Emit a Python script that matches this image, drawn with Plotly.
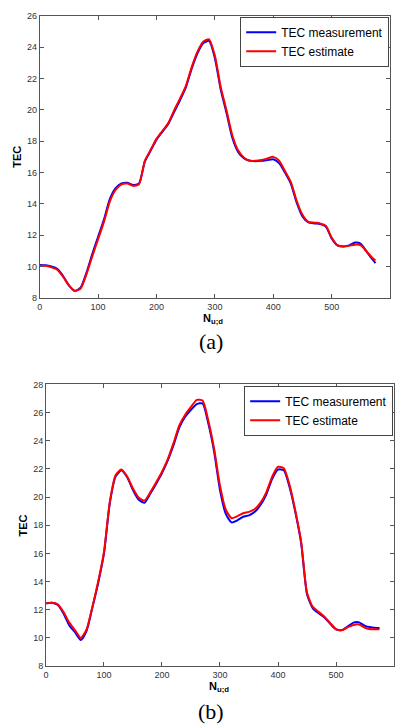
import plotly.graph_objects as go

# ---------------- data ----------------
x_a = [0, 10, 20, 30, 40, 50, 60, 70, 80, 90, 100, 110, 120, 130, 140, 150, 160, 170, 180, 190,
       200, 210, 220, 230, 240, 250, 260, 270, 280, 290, 300, 310, 320, 330, 340, 350, 360, 370,
       380, 390, 400, 410, 420, 430, 440, 450, 460, 470, 480, 490, 500, 510, 520, 530, 540, 550,
       560, 570, 575]
meas_a = [10.10, 10.08, 10.00, 9.85, 9.40, 8.80, 8.45, 8.65, 9.60, 10.80, 11.90, 13.00, 14.30,
          15.00, 15.30, 15.35, 15.20, 15.30, 16.70, 17.40, 18.10, 18.60, 19.10, 19.85, 20.60,
          21.40, 22.60, 23.60, 24.25, 24.40, 23.30, 21.30, 19.80, 18.20, 17.30, 16.90, 16.75,
          16.72, 16.75, 16.80, 16.85, 16.60, 16.00, 15.30, 14.10, 13.20, 12.82, 12.75, 12.72,
          12.55, 11.80, 11.35, 11.28, 11.35, 11.53, 11.45, 10.95, 10.45, 10.22]
est_a = [10.05, 10.05, 9.95, 9.80, 9.35, 8.80, 8.45, 8.60, 9.50, 10.65, 11.75, 12.85, 14.15,
         14.90, 15.25, 15.30, 15.15, 15.25, 16.75, 17.45, 18.15, 18.65, 19.15, 19.95, 20.70,
         21.50, 22.70, 23.70, 24.35, 24.50, 23.45, 21.45, 19.95, 18.35, 17.40, 16.95, 16.75,
         16.75, 16.80, 16.90, 17.00, 16.75, 16.10, 15.40, 14.20, 13.30, 12.85, 12.80, 12.75,
         12.60, 11.85, 11.35, 11.28, 11.32, 11.40, 11.35, 10.95, 10.55, 10.38]

x_b = list(x_a)
meas_b = [12.45, 12.50, 12.35, 11.75, 10.90, 10.40, 9.85, 10.50, 12.15, 13.90, 16.00, 19.55,
          21.45, 21.90, 21.40, 20.50, 19.80, 19.60, 20.25, 20.95, 21.70, 22.60, 23.70, 24.95,
          25.70, 26.20, 26.60, 26.65, 25.20, 23.20, 20.50, 18.80, 18.20, 18.35, 18.60, 18.70,
          18.95, 19.45, 20.20, 21.30, 21.95, 21.90, 20.70, 18.90, 16.70, 13.10, 12.10, 11.75,
          11.45, 11.00, 10.60, 10.55, 10.80, 11.08, 11.10, 10.85, 10.75, 10.70, 10.70]
est_b = [12.45, 12.50, 12.40, 11.85, 11.10, 10.55, 10.00, 10.60, 12.20, 14.00, 16.10, 19.65,
         21.55, 21.95, 21.45, 20.60, 19.95, 19.75, 20.35, 21.05, 21.80, 22.70, 23.85, 25.10,
         25.85, 26.40, 26.90, 26.85, 25.40, 23.40, 20.80, 19.10, 18.50, 18.65, 18.85, 18.95,
         19.15, 19.60, 20.35, 21.45, 22.15, 22.05, 20.85, 19.00, 16.80, 13.20, 12.20, 11.85,
         11.50, 11.05, 10.62, 10.55, 10.75, 10.92, 10.95, 10.72, 10.62, 10.62, 10.62]

series_names = ["TEC measurement", "TEC estimate"]
ylabel = "TEC"
xlabel = "<b>N<sub>u;d</sub></b>"
panel_labels = ["(a)", "(b)"]

# ---------------- figure ----------------
W, H = 397, 725
BLUE, RED = "#0000ff", "#ff0000"
LINE_KW = dict(width=2, shape="spline", smoothing=0.6)

fig = go.Figure()
fig.add_trace(go.Scatter(x=x_a, y=meas_a, mode="lines", name=series_names[0],
                         line=dict(color=BLUE, **LINE_KW), xaxis="x", yaxis="y", legend="legend"))
fig.add_trace(go.Scatter(x=x_a, y=est_a, mode="lines", name=series_names[1],
                         line=dict(color=RED, **LINE_KW), xaxis="x", yaxis="y", legend="legend"))
fig.add_trace(go.Scatter(x=x_b, y=meas_b, mode="lines", name=series_names[0],
                         line=dict(color=BLUE, **LINE_KW), xaxis="x2", yaxis="y2", legend="legend2"))
fig.add_trace(go.Scatter(x=x_b, y=est_b, mode="lines", name=series_names[1],
                         line=dict(color=RED, **LINE_KW), xaxis="x2", yaxis="y2", legend="legend2"))


def px_x(p):
    return p / W


def px_y(p):
    return 1 - p / H


axis_common = dict(showline=True, linecolor="#555555", linewidth=1, mirror="ticks",
                   ticks="inside", ticklen=4, tickcolor="#555555", showgrid=False,
                   zeroline=False, tickfont=dict(family="Liberation Sans, Arial", size=9,
                                                 color="#333333"))

legend_font = dict(family="Liberation Sans, Arial", size=12, color="black")
fig.update_layout(
    width=W, height=H, margin=dict(l=0, r=0, t=0, b=0),
    plot_bgcolor="white", paper_bgcolor="white",
    xaxis=dict(domain=[px_x(37), px_x(390)], range=[0, 600], dtick=100, anchor="y", **axis_common),
    yaxis=dict(domain=[px_y(297), px_y(11)], range=[8, 26], dtick=2, anchor="x", **axis_common),
    xaxis2=dict(domain=[px_x(43.3), px_x(394)], range=[0, 600], dtick=100, anchor="y2", **axis_common),
    yaxis2=dict(domain=[px_y(670.3), px_y(384.7)], range=[8, 28], dtick=2, anchor="x2", **axis_common),
    legend=dict(x=px_x(239), y=px_y(12), xanchor="left", yanchor="top",
                bordercolor="#444444", borderwidth=1, bgcolor="white",
                font=legend_font, itemwidth=30, tracegroupgap=0),
    legend2=dict(x=px_x(243), y=px_y(386), xanchor="left", yanchor="top",
                 bordercolor="#444444", borderwidth=1, bgcolor="white",
                 font=legend_font, itemwidth=30, tracegroupgap=0),
    showlegend=True,
)

ann_font = dict(family="Liberation Sans, Arial", size=11, color="black")
annotations = [
    dict(text="<b>" + ylabel + "</b>", x=px_x(14), y=px_y(154), textangle=-90, font=ann_font),
    dict(text="<b>" + ylabel + "</b>", x=px_x(20), y=px_y(528), textangle=-90, font=ann_font),
    dict(text=xlabel, x=px_x(212), y=px_y(318), font=ann_font),
    dict(text=xlabel, x=px_x(218), y=px_y(692), font=ann_font),
    dict(text=panel_labels[0], x=px_x(210), y=px_y(341),
         font=dict(family="Liberation Serif, Times New Roman", size=22, color="black")),
    dict(text=panel_labels[1], x=px_x(210), y=px_y(716),
         font=dict(family="Liberation Serif, Times New Roman", size=22, color="black")),
]
for a in annotations:
    a.update(xref="paper", yref="paper", showarrow=False, xanchor="center", yanchor="middle")
fig.update_layout(annotations=annotations)

fig.write_html("out.html")
